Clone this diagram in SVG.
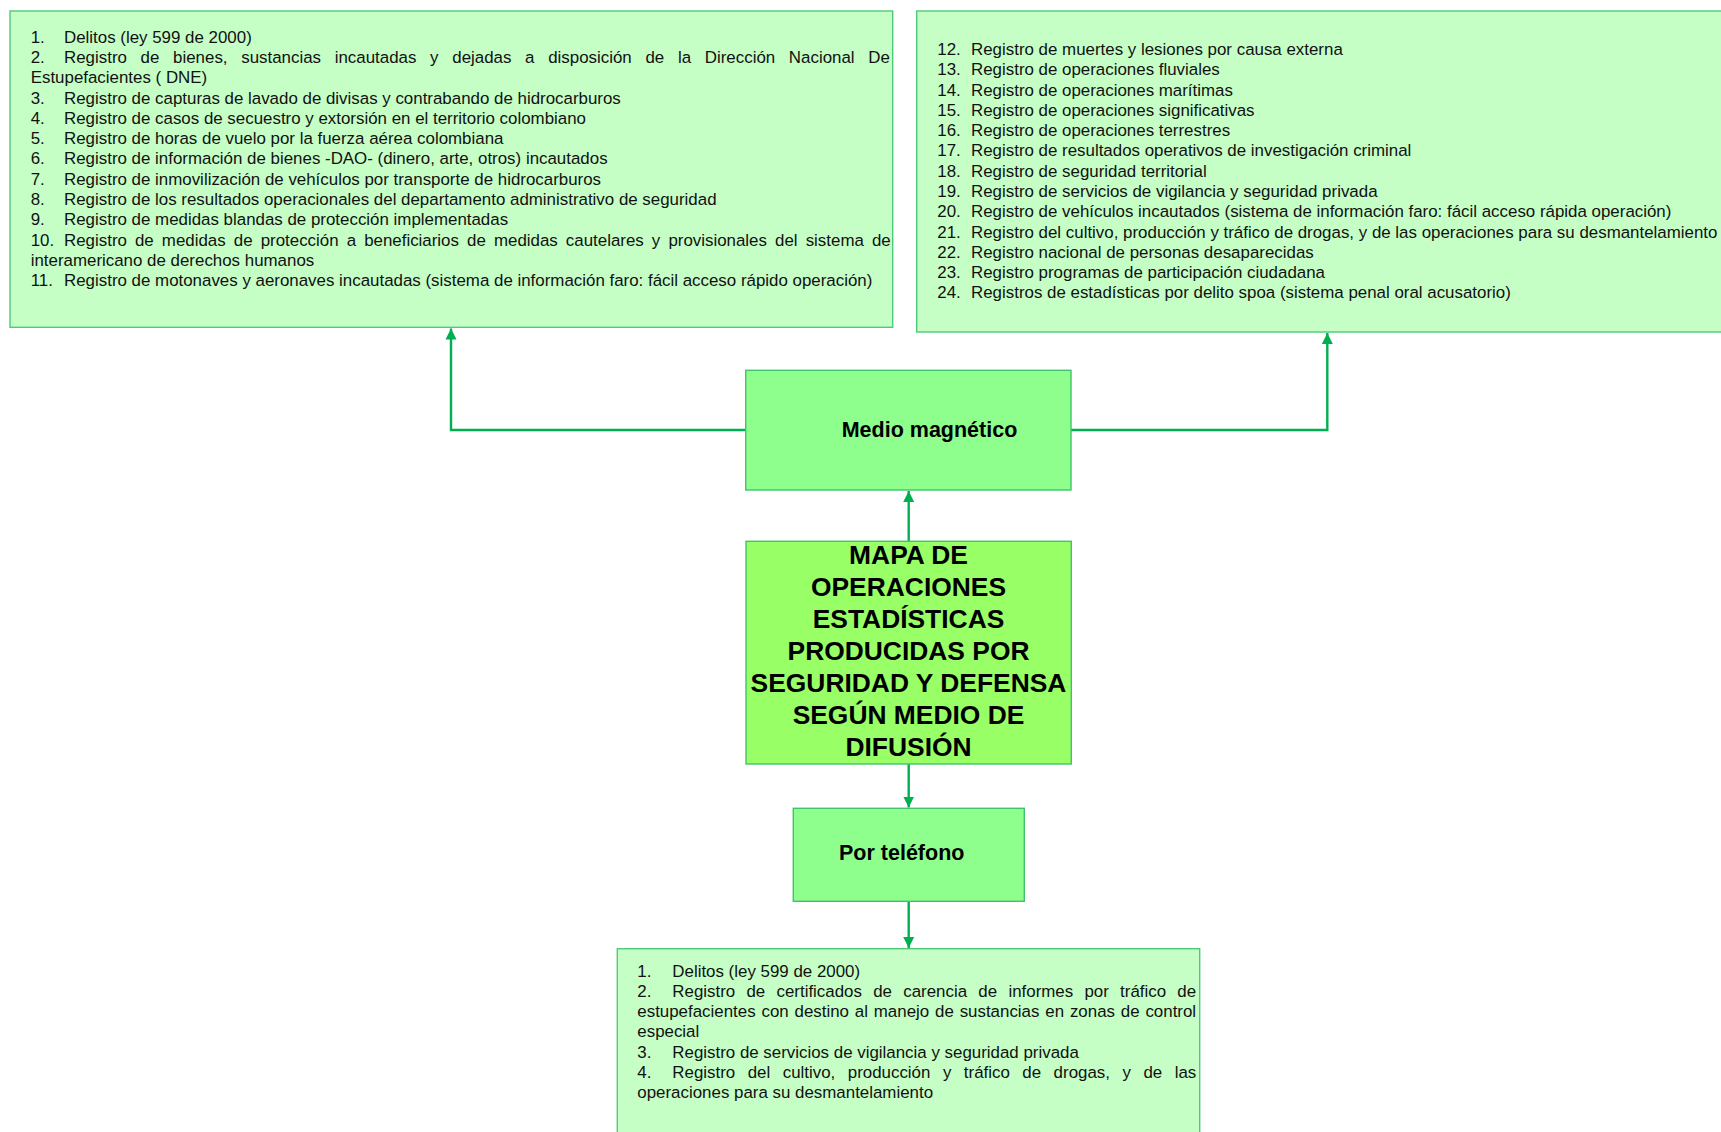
<svg xmlns="http://www.w3.org/2000/svg" width="1721" height="1132" viewBox="0 0 1721 1132">
<style>
.list{fill:#C6FFC6;stroke:#4CCB78;stroke-width:1.4}
.mid{fill:#8EFF8C;stroke:#3FC46C;stroke-width:1.4}
.core{fill:#99FF66;stroke:#3FC46C;stroke-width:1.4}
.t{font-family:"Liberation Sans",Arial,sans-serif;font-size:16.9px;fill:#111}
.b{font-family:"Liberation Sans",Arial,sans-serif;font-weight:bold;font-size:21.5px;fill:#000}
.h{font-family:"Liberation Sans",Arial,sans-serif;font-weight:bold;font-size:26.4px;fill:#000;text-anchor:middle}
.c{fill:none;stroke:#00B050;stroke-width:2.4}
</style>
<defs>
<marker id="ah" markerUnits="userSpaceOnUse" markerWidth="12" markerHeight="12" refX="11" refY="6" orient="auto">
<path d="M0,0.5 L11,6 L0,11.5 z" fill="#00B050"/>
</marker>
</defs>
<rect width="1721" height="1132" fill="#fff"/>

<g id="connectors">
<path class="c" d="M745.7,430 H451 V328.5" marker-end="url(#ah)"/>
<path class="c" d="M1071,430 H1327.3 V333" marker-end="url(#ah)"/>
<path class="c" d="M908.7,541.3 V491" marker-end="url(#ah)"/>
<path class="c" d="M908.7,764 V807.5" marker-end="url(#ah)"/>
<path class="c" d="M908.7,901.3 V948" marker-end="url(#ah)"/>
</g>

<g id="list-left">
<rect class="list" x="10" y="11" width="882.7" height="316.3"/>
<g class="t">
<text x="30.7" y="42.7">1.</text><text x="64" y="42.7">Delitos (ley 599 de 2000)</text>
<text x="30.7" y="63">2.</text><text x="64" y="63" word-spacing="9.0">Registro de bienes, sustancias incautadas y dejadas a disposición de la Dirección Nacional De</text>
<text x="30.7" y="83.3">Estupefacientes ( DNE)</text>
<text x="30.7" y="103.5">3.</text><text x="64" y="103.5">Registro de capturas de lavado de divisas y contrabando de hidrocarburos</text>
<text x="30.7" y="123.8">4.</text><text x="64" y="123.8">Registro de casos de secuestro y extorsión en el territorio colombiano</text>
<text x="30.7" y="144.1">5.</text><text x="64" y="144.1">Registro de horas de vuelo por la fuerza aérea colombiana</text>
<text x="30.7" y="164.4">6.</text><text x="64" y="164.4">Registro de información de bienes -DAO- (dinero, arte, otros) incautados</text>
<text x="30.7" y="184.7">7.</text><text x="64" y="184.7">Registro de inmovilización de vehículos por transporte de hidrocarburos</text>
<text x="30.7" y="204.9">8.</text><text x="64" y="204.9">Registro de los resultados operacionales del departamento administrativo de seguridad</text>
<text x="30.7" y="225.2">9.</text><text x="64" y="225.2">Registro de medidas blandas de protección implementadas</text>
<text x="30.7" y="245.5">10.</text><text x="64" y="245.5" word-spacing="3.39">Registro de medidas de protección a beneficiarios de medidas cautelares y provisionales del sistema de</text>
<text x="30.7" y="265.8">interamericano de derechos humanos</text>
<text x="30.7" y="286.1">11.</text><text x="64" y="286.1">Registro de motonaves y aeronaves incautadas (sistema de información faro: fácil acceso rápido operación)</text>
</g>
</g>

<g id="list-right">
<rect class="list" x="916.7" y="11" width="820" height="321"/>
<g class="t">
<text x="937.3" y="55">12.</text><text x="971" y="55">Registro de muertes y lesiones por causa externa</text>
<text x="937.3" y="75.3">13.</text><text x="971" y="75.3">Registro de operaciones fluviales</text>
<text x="937.3" y="95.6">14.</text><text x="971" y="95.6">Registro de operaciones marítimas</text>
<text x="937.3" y="115.8">15.</text><text x="971" y="115.8">Registro de operaciones significativas</text>
<text x="937.3" y="136.1">16.</text><text x="971" y="136.1">Registro de operaciones terrestres</text>
<text x="937.3" y="156.4">17.</text><text x="971" y="156.4">Registro de resultados operativos de investigación criminal</text>
<text x="937.3" y="176.7">18.</text><text x="971" y="176.7">Registro de seguridad territorial</text>
<text x="937.3" y="197">19.</text><text x="971" y="197">Registro de servicios de vigilancia y seguridad privada</text>
<text x="937.3" y="217.2">20.</text><text x="971" y="217.2">Registro de vehículos incautados (sistema de información faro: fácil acceso rápida operación)</text>
<text x="937.3" y="237.5">21.</text><text x="971" y="237.5">Registro del cultivo, producción y tráfico de drogas, y de las operaciones para su desmantelamiento</text>
<text x="937.3" y="257.8">22.</text><text x="971" y="257.8">Registro nacional de personas desaparecidas</text>
<text x="937.3" y="278.1">23.</text><text x="971" y="278.1">Registro programas de participación ciudadana</text>
<text x="937.3" y="298.4">24.</text><text x="971" y="298.4">Registros de estadísticas por delito spoa (sistema penal oral acusatorio)</text>
</g>
</g>

<g id="medio-magnetico">
<rect class="mid" x="745.7" y="370.3" width="325.3" height="119.7"/>
<text class="b" x="841.7" y="436.5">Medio magnético</text>
</g>

<g id="mapa">
<rect class="core" x="746" y="541.3" width="325.3" height="222.7"/>
<text class="h" x="908.5" y="564.3">MAPA DE</text>
<text class="h" x="908.5" y="596.2">OPERACIONES</text>
<text class="h" x="908.5" y="628.1">ESTADÍSTICAS</text>
<text class="h" x="908.5" y="660">PRODUCIDAS POR</text>
<text class="h" x="908.5" y="691.9">SEGURIDAD Y DEFENSA</text>
<text class="h" x="908.5" y="723.8">SEGÚN MEDIO DE</text>
<text class="h" x="908.5" y="755.7">DIFUSIÓN</text>
</g>

<g id="por-telefono">
<rect class="mid" x="793.3" y="808.3" width="231" height="93"/>
<text class="b" x="839" y="860">Por teléfono</text>
</g>

<g id="list-bottom">
<rect class="list" x="617.3" y="948.7" width="582.4" height="200"/>
<g class="t">
<text x="637.3" y="976.7">1.</text><text x="672.3" y="976.7">Delitos (ley 599 de 2000)</text>
<text x="637.3" y="996.9">2.</text><text x="672.3" y="996.9" word-spacing="6.57">Registro de certificados de carencia de informes por tráfico de</text>
<text x="637.3" y="1017.1" word-spacing="1.14">estupefacientes con destino al manejo de sustancias en zonas de control</text>
<text x="637.3" y="1037.3">especial</text>
<text x="637.3" y="1057.5">3.</text><text x="672.3" y="1057.5">Registro de servicios de vigilancia y seguridad privada</text>
<text x="637.3" y="1077.7">4.</text><text x="672.3" y="1077.7" word-spacing="7.8">Registro del cultivo, producción y tráfico de drogas, y de las</text>
<text x="637.3" y="1097.9">operaciones para su desmantelamiento</text>
</g>
</g>
</svg>
